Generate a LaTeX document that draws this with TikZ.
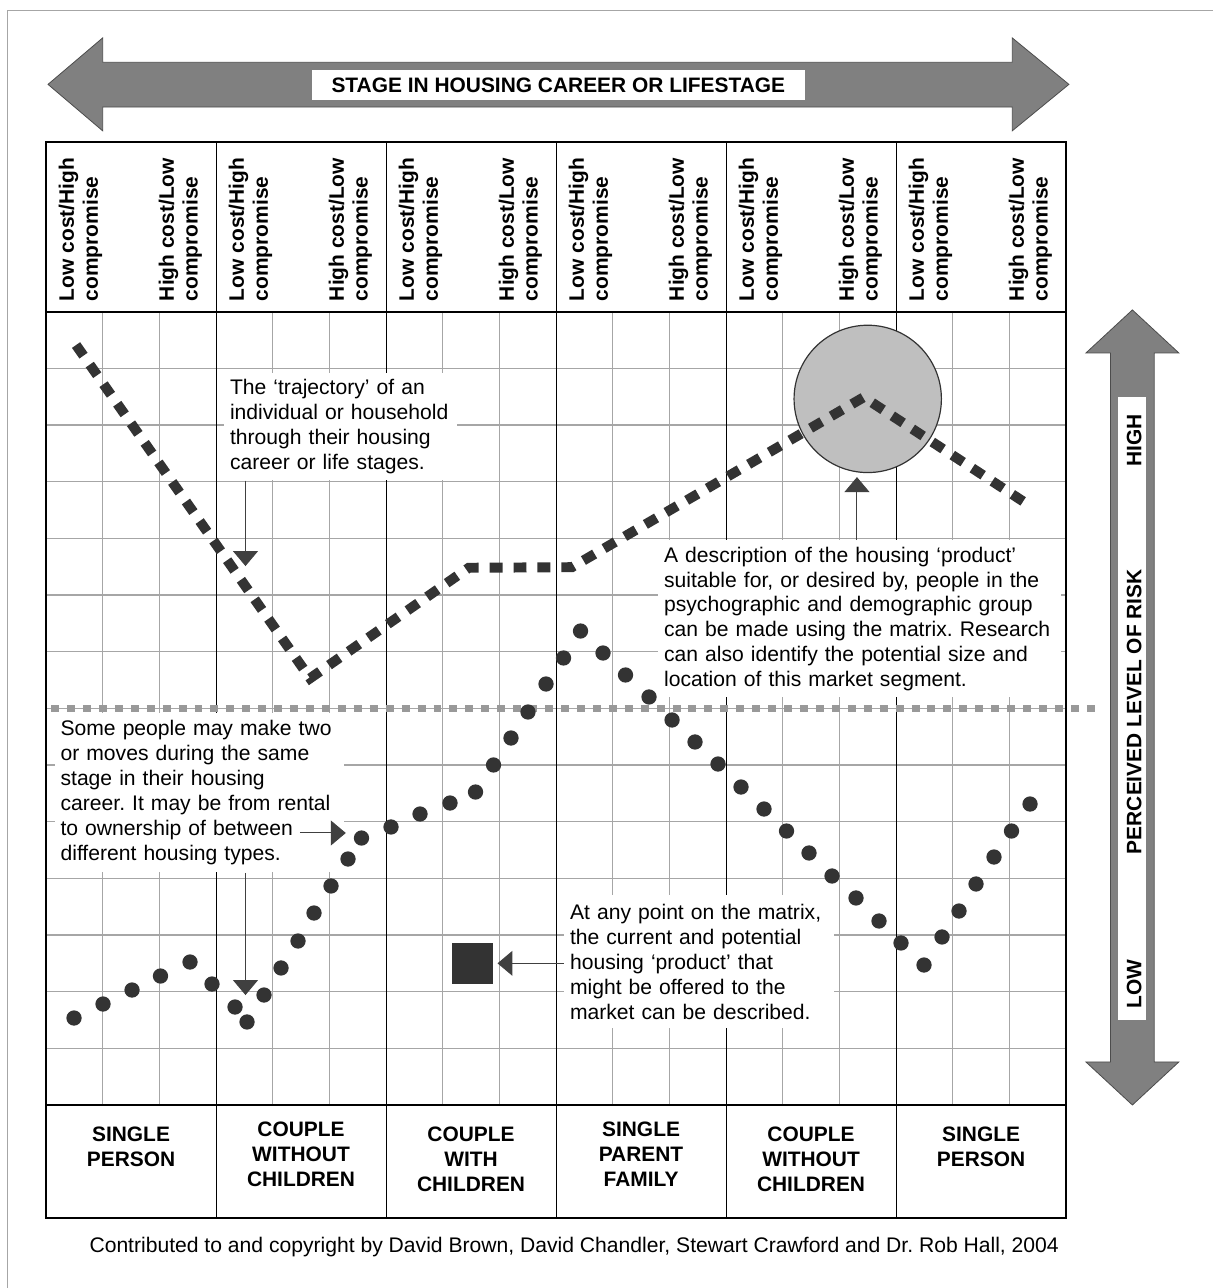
\documentclass[tikz,border=0pt]{standalone}
\usepackage{fontspec}
\setmainfont{Liberation Sans}
\usetikzlibrary{arrows.meta}
\frenchspacing
\tikzset{
	gridline/.style={line width=0.7pt, color=black!35},
	colline/.style={line width=0.5pt, color=black},
	frameline/.style={line width=1.1pt, color=black},
	bigarrow/.style={fill=black!50, draw=black!70, line width=0.4pt},
	note/.style={fill=white, inner xsep=0.1cm, inner ysep=0.05cm, align=left, font=\fontsize{10.6}{12.5}\selectfont},
	pointer/.style={line width=0.5pt, color=black!75, -{Triangle[width=12.5pt,length=7.5pt]}},
	trajline/.style={line width=5pt, color=black!80, dash pattern=on 6.5pt off 5.5pt},
	midline/.style={line width=3.5pt, color=black!40, dash pattern=on 4pt off 4pt},
	riskdot/.style={fill=black!80},
	head/.style={rotate=90, anchor=north west, inner sep=0, align=left, font=\bfseries\fontsize{10.5}{12}\selectfont},
	stage/.style={anchor=north, inner sep=0, align=center, font=\bfseries\fontsize{10.5}{12.5}\selectfont},
	risklabel/.style={rotate=90, inner sep=0, font=\bfseries\fontsize{10.5}{12.5}\selectfont}
}

\begin{document}
\begin{tikzpicture}
		%%%%% START %%%%%
		\useasboundingbox (-0.812,-3.229) rectangle (20.575,19.499);
		
		\draw[line width=0.7pt, color=black!35] (-0.68,-3.6) -- (-0.68,19.31) -- (21,19.31);
		
		% stage arrow
		\draw[bigarrow] (0.035,18.01) -- (1.0,18.83) -- (1.0,18.40) -- (17.05,18.40) -- (17.05,18.83) -- (18.05,18.01)
			-- (17.05,17.19) -- (17.05,17.61) -- (1.0,17.61) -- (1.0,17.19) -- cycle;
		\node[fill=white, minimum width=8.69cm, minimum height=0.53cm, inner sep=0, font=\bfseries\fontsize{10.5}{12}\selectfont] (stagetitle) at (9.04,18.0) {STAGE IN HOUSING CAREER OR LIFESTAGE};
		
		% risk arrow
		\draw[bigarrow] (19.17,14.03) -- (19.99,13.27) -- (19.555,13.27) -- (19.555,0.76) -- (19.99,0.76) -- (19.17,0)
			-- (18.35,0.76) -- (18.785,0.76) -- (18.785,13.27) -- (18.35,13.27) -- cycle;
		\fill[white] (18.91,1.5) rectangle (19.41,12.49);
		\node[risklabel] (high) at (19.2,11.73) {HIGH};
		\node[risklabel] (risk) at (19.2,6.94) {PERCEIVED LEVEL OF RISK};
		\node[risklabel] (low) at (19.2,2.13) {LOW};
		
		% matrix
		\foreach \y in {1,...,13}
			\draw[gridline] (0,\y) -- (18,\y);
		\foreach \x in {1,2,4,5,7,8,10,11,13,14,16,17}
			\draw[gridline] (\x,0) -- (\x,14);
		\foreach \x in {3,6,...,15}
			\draw[colline] (\x,-2) -- (\x,17);
		\draw[frameline] (0,-2) rectangle (18,17);
		\draw[frameline] (0,14) -- (18,14);
		\draw[frameline] (0,0) -- (18,0);
		
		\draw[midline] (0.09,7.0) -- (18.58,7.0);
		
		% notes
		\node[note, text width=3.9cm, minimum height=1.9cm, anchor=north west] (trajnote) at (3.14,12.93)
			{The ‘trajectory’ of an\\individual or household\\through their housing\\career or life stages.};
		\node[note, text width=6.9cm, minimum height=2.77cm, anchor=north west] (productnote) at (10.8,9.97)
			{A description of the housing ‘product’\\suitable for, or desired by, people in the\\psychographic and demographic group\\can be made using the matrix. Research\\can also identify the potential size and\\location of this market segment.};
		\node[note, text width=4.9cm, minimum height=2.82cm, anchor=north west] (movesnote) at (0.15,6.93)
			{Some people may make two\\or moves during the same\\stage in their housing\\career. It may be from rental\\to ownership of between\\different housing types.};
		\node[note, text width=4.56cm, minimum height=2.35cm, anchor=north west] (offernote) at (9.14,3.71)
			{At any point on the matrix,\\the current and potential\\housing ‘product’ that\\might be offered to the\\market can be described.};
		
		\node[fill=black!80, minimum size=0.72cm, inner sep=0] (product) at (7.53,2.5) {};
		\node[circle, draw=black!80, fill=black!25, line width=0.6pt, minimum size=2.6cm, inner sep=0] (segment) at (14.5,12.46) {};
		
		\coordinate (trajtip) at (3.52,9.51);
		\coordinate (ringtip) at (14.31,11.08);
		\coordinate (movesfrom) at (4.48,4.80);
		\coordinate (movestip) at (5.29,4.80);
		\coordinate (dropstip) at (3.52,1.94);
		\draw[pointer] (trajnote.south -| trajtip) -- (trajtip);
		\draw[pointer] (productnote.north -| ringtip) -- (ringtip);
		\draw[pointer] (movesfrom) -- (movestip);
		\draw[pointer] (movesnote.south -| dropstip) -- (dropstip);
		\draw[pointer] (offernote.west |- product) -- ([xshift=0.07cm]product.east);
		
		% dots
		\foreach \x/\y in {0.494/1.535, 1.006/1.782, 1.518/2.029, 2.020/2.276, 2.541/2.523, 2.929/2.135,
			3.335/1.729, 3.547/1.465, 3.847/1.941, 4.147/2.418, 4.447/2.894, 4.729/3.388, 5.029/3.865,
			5.329/4.341, 5.567/4.711, 6.088/4.906, 6.600/5.135, 7.129/5.329, 7.579/5.523, 7.897/6.000,
			8.205/6.476, 8.505/6.935, 8.823/7.429, 9.132/7.888, 9.432/8.364, 9.829/7.976, 10.226/7.588,
			10.641/7.200, 11.047/6.794, 11.452/6.406, 11.858/6.017, 12.264/5.611, 12.670/5.223,
			13.067/4.835, 13.464/4.447, 13.870/4.041, 14.293/3.653, 14.699/3.247, 15.087/2.859,
			15.493/2.470, 15.811/2.965, 16.111/3.423, 16.411/3.900, 16.728/4.376, 17.037/4.835, 17.364/5.311}
			\fill[riskdot] (\x,\y) circle (0.135);
		
		% trajectory
		\draw[trajline] (0.53,13.41) -- (4.66,7.53) -- (7.46,9.48) -- (9.28,9.49) -- (14.43,12.49) -- (17.29,10.62);
		
		% header
		\foreach \c in {0,...,5} {
			\node[head] (low\c) at (3*\c+0.217,14.18) {Low cost/High\\compromise};
			\node[head] (high\c) at (3*\c+1.98,14.18) {High cost/Low\\compromise};
		}
		
		% stages
		\node[stage] (single) at (1.5,-0.38) {SINGLE\\PERSON};
		\node[stage] (couple) at (4.5,-0.29) {COUPLE\\WITHOUT\\CHILDREN};
		\node[stage] (family) at (7.5,-0.38) {COUPLE\\WITH\\CHILDREN};
		\node[stage] (parent) at (10.5,-0.29) {SINGLE\\PARENT\\FAMILY};
		\node[stage] (empty) at (13.5,-0.38) {COUPLE\\WITHOUT\\CHILDREN};
		\node[stage] (alone) at (16.5,-0.38) {SINGLE\\PERSON};
		
		\node[font=\fontsize{10.6}{12.5}\selectfont] (credit) at (9.32,-2.5) {Contributed to and copyright by David Brown, David Chandler, Stewart Crawford and Dr. Rob Hall, 2004};
		
		%%%%% END %%%%%
	\end{tikzpicture}
\end{document}
